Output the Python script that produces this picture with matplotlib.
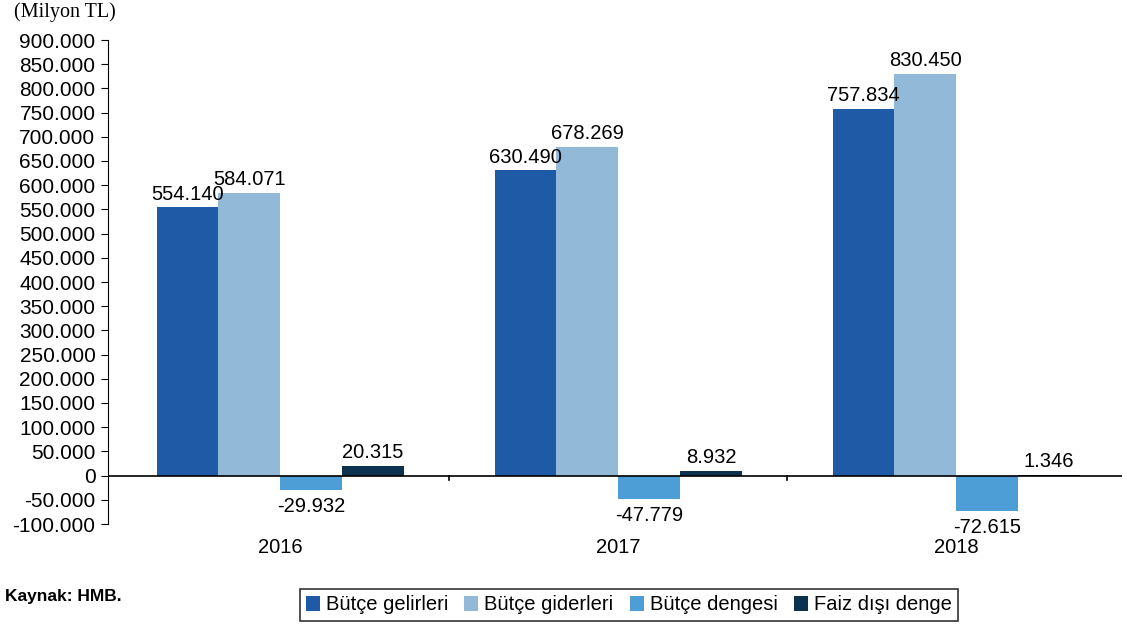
import numpy as np
import matplotlib.pyplot as plt
from matplotlib.ticker import FuncFormatter

# Data (Milyon TL)
years = ['2016', '2017', '2018']
series = ['Bütçe gelirleri', 'Bütçe giderleri', 'Bütçe dengesi', 'Faiz dışı denge']
gelir = [554140, 630490, 757834]
gider = [584071, 678269, 830450]
denge = [-29932, -47779, -72615]
faiz = [20315, 8932, 1346]
colors = ['#1F5AA6', '#93B9D9', '#4D9DD6', '#0B3350']

plt.rcParams['font.family'] = ['Liberation Sans', 'DejaVu Sans']

fig = plt.figure(figsize=(11.27, 6.25), dpi=100)
ax = fig.add_axes([0.0958, 0.1616, 0.8997, 0.7744])

x = np.arange(len(years))
w = 0.183
for i, (vals, c) in enumerate(zip([gelir, gider, denge, faiz], colors)):
    pos = x + (i - 1.5) * w
    ax.bar(pos, vals, width=w, color=c, label=series[i])
    for p, v in zip(pos, vals):
        txt = f'{v:,}'.replace(',', '.')
        if v >= 0:
            ax.text(p, v + 8000, txt, ha='center', va='bottom', fontsize=14.5)
        else:
            ax.text(p, v - 14000, txt, ha='center', va='top', fontsize=14.5)

ax.set_xlim(-0.51, 2.49)
ax.set_ylim(-100000, 900000)
ax.set_yticks(np.arange(-100000, 900001, 50000))
ax.yaxis.set_major_formatter(FuncFormatter(lambda v, _: f'{int(v):,}'.replace(',', '.')))
ax.tick_params(axis='y', labelsize=15, length=5, direction='out', pad=4)

for s in ['top', 'right', 'bottom']:
    ax.spines[s].set_visible(False)
ax.axhline(0, color='black', lw=1.2)
for b in [0.5, 1.5]:
    ax.plot([b, b], [0, -9000], color='black', lw=1.2, clip_on=False)

ax.set_xticks([])
for xi, yr in zip(x, years):
    ax.text(xi, -149000, yr, ha='center', va='center', fontsize=14.5)

fig.text(0.012, 0.997, '(Milyon TL)', family='Liberation Serif', fontsize=14.5, va='top')
fig.text(0.004, 0.045, 'Kaynak: HMB.', fontsize=12.5, fontweight='bold', va='center')

leg = ax.legend(loc='center', ncol=4, fontsize=14.5, frameon=True, fancybox=False,
                edgecolor='black', handlelength=0.7, handleheight=0.7,
                handletextpad=0.3, columnspacing=0.8, borderpad=0.3)
leg.get_frame().set_linewidth(1.2)
leg.set_bbox_to_anchor((0.5579, 0.032), transform=fig.transFigure)

fig.savefig('out.png', dpi=100)
